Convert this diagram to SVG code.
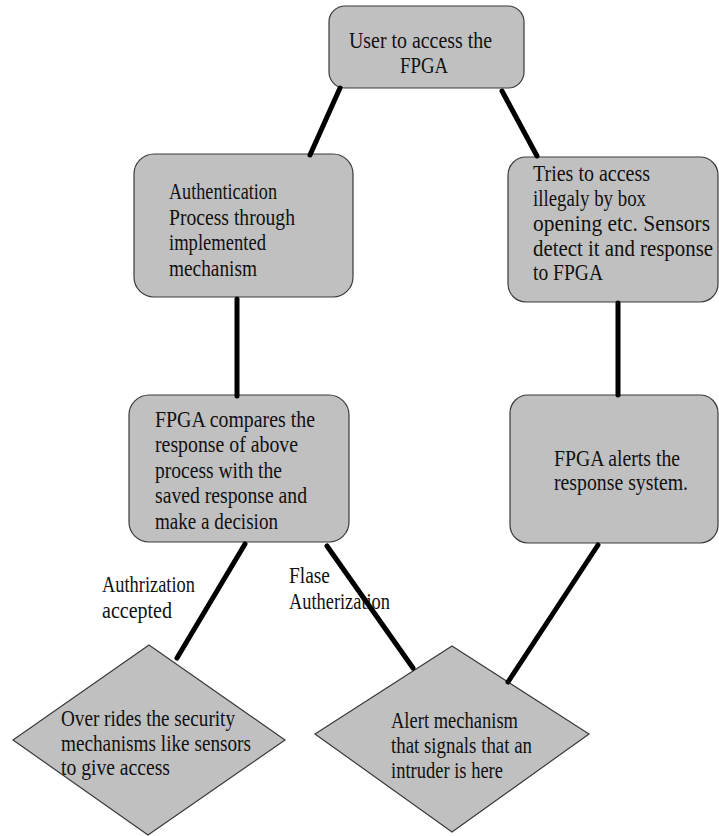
<svg xmlns="http://www.w3.org/2000/svg" width="719" height="836" viewBox="0 0 719 836">
  <style>
    .box { fill: #c0c0c0; stroke: #3a3a3a; stroke-width: 1.2; }
    .t { font-family: "Liberation Serif", "DejaVu Serif", "Times New Roman", serif; font-size: 23px; fill: #111; }
    .link { stroke: #000; stroke-width: 5; stroke-linecap: round; fill: none; }
  </style>
  <rect width="719" height="836" fill="#fff"/>

  <g id="user-access">
    <rect class="box" x="329" y="6" width="195" height="82" rx="16"/>
    <text class="t" x="349" y="48" textLength="143" lengthAdjust="spacingAndGlyphs">User to access the</text>
    <text class="t" x="400" y="73" textLength="48" lengthAdjust="spacingAndGlyphs">FPGA</text>
  </g>

  <g id="authentication">
    <rect class="box" x="134" y="154" width="219" height="143" rx="20"/>
    <text class="t" x="169" y="199" textLength="108" lengthAdjust="spacingAndGlyphs">Authentication</text>
    <text class="t" x="169" y="225" textLength="126" lengthAdjust="spacingAndGlyphs">Process through</text>
    <text class="t" x="169" y="250" textLength="97" lengthAdjust="spacingAndGlyphs">implemented</text>
    <text class="t" x="169" y="276" textLength="88" lengthAdjust="spacingAndGlyphs">mechanism</text>
  </g>

  <g id="illegal-access">
    <rect class="box" x="508" y="157" width="210" height="145" rx="18"/>
    <text class="t" x="533" y="181" textLength="117" lengthAdjust="spacingAndGlyphs">Tries to access</text>
    <text class="t" x="533" y="206" textLength="113" lengthAdjust="spacingAndGlyphs">illegaly by box</text>
    <text class="t" x="533" y="231" textLength="177" lengthAdjust="spacingAndGlyphs">opening etc. Sensors</text>
    <text class="t" x="533" y="256" textLength="180" lengthAdjust="spacingAndGlyphs">detect it and response</text>
    <text class="t" x="533" y="280" textLength="70" lengthAdjust="spacingAndGlyphs">to FPGA</text>
  </g>

  <g id="compare">
    <rect class="box" x="129" y="395" width="220" height="147" rx="20"/>
    <text class="t" x="155" y="427" textLength="160" lengthAdjust="spacingAndGlyphs">FPGA compares the</text>
    <text class="t" x="155" y="452" textLength="143" lengthAdjust="spacingAndGlyphs">response of above</text>
    <text class="t" x="155" y="478" textLength="127" lengthAdjust="spacingAndGlyphs">process with the</text>
    <text class="t" x="155" y="503" textLength="152" lengthAdjust="spacingAndGlyphs">saved response and</text>
    <text class="t" x="155" y="529" textLength="123" lengthAdjust="spacingAndGlyphs">make a decision</text>
  </g>

  <g id="alert-system">
    <rect class="box" x="510" y="395" width="208" height="148" rx="18"/>
    <text class="t" x="554" y="466" textLength="126" lengthAdjust="spacingAndGlyphs">FPGA alerts the</text>
    <text class="t" x="554" y="490" textLength="134" lengthAdjust="spacingAndGlyphs">response system.</text>
  </g>

  <g id="override">
    <polygon class="box" points="149,645 285,740 148,835 13,740"/>
    <text class="t" x="61" y="726" textLength="174" lengthAdjust="spacingAndGlyphs">Over rides the security</text>
    <text class="t" x="61" y="751" textLength="190" lengthAdjust="spacingAndGlyphs">mechanisms like sensors</text>
    <text class="t" x="61" y="775" textLength="109" lengthAdjust="spacingAndGlyphs">to give access</text>
  </g>

  <g id="intruder-alert">
    <polygon class="box" points="452,646 589,734 452,832 315,734"/>
    <text class="t" x="391" y="728" textLength="127" lengthAdjust="spacingAndGlyphs">Alert mechanism</text>
    <text class="t" x="391" y="753" textLength="141" lengthAdjust="spacingAndGlyphs">that signals that an</text>
    <text class="t" x="391" y="778" textLength="112" lengthAdjust="spacingAndGlyphs">intruder is here</text>
  </g>

  <g id="edge-labels">
    <text class="t" x="102" y="592" textLength="93" lengthAdjust="spacingAndGlyphs">Authrization</text>
    <text class="t" x="102" y="618" textLength="70" lengthAdjust="spacingAndGlyphs">accepted</text>
    <text class="t" x="289" y="583" textLength="41" lengthAdjust="spacingAndGlyphs">Flase</text>
    <text class="t" x="289" y="609" textLength="101" lengthAdjust="spacingAndGlyphs">Autherization</text>
  </g>

  <g id="connectors">
    <line class="link" x1="340" y1="88" x2="310" y2="155"/>
    <line class="link" x1="502" y1="91" x2="537" y2="156"/>
    <line class="link" x1="237" y1="299" x2="237" y2="396"/>
    <line class="link" x1="618" y1="303" x2="618" y2="395"/>
    <line class="link" x1="245" y1="544" x2="177" y2="658"/>
    <line class="link" x1="327" y1="546" x2="413" y2="668"/>
    <line class="link" x1="598" y1="545" x2="508" y2="682"/>
  </g>
</svg>
